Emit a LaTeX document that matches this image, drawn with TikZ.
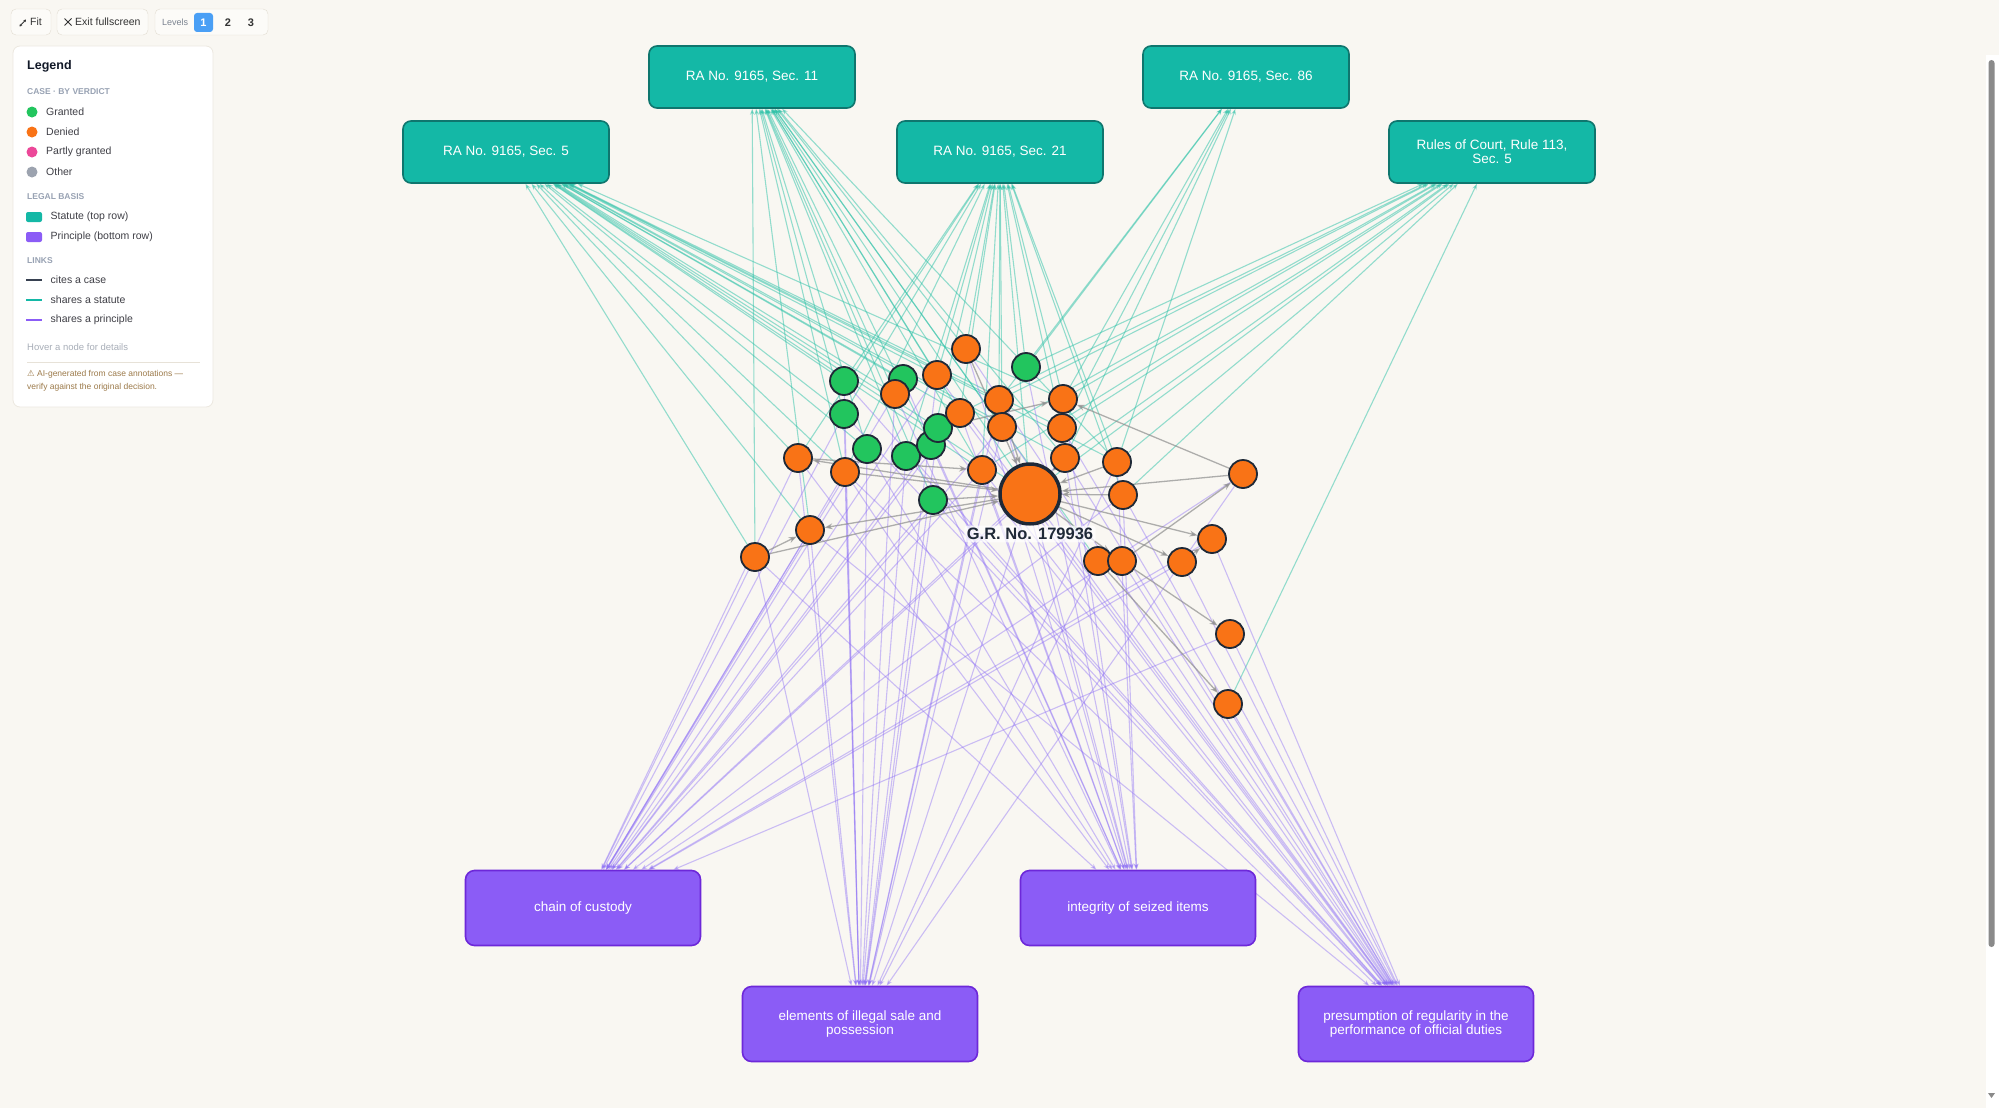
\documentclass[tikz,border=0pt]{standalone}
\usepackage{fontspec}
\setmainfont{Liberation Sans}
\newfontfamily\symfont{DejaVu Sans}
\usetikzlibrary{positioning,arrows.meta,backgrounds}

\definecolor{pagebg}{HTML}{F9F7F2}
\definecolor{statfill}{HTML}{14B8A6}
\definecolor{statdraw}{HTML}{0F766E}
\definecolor{princfill}{HTML}{8B5CF6}
\definecolor{princdraw}{HTML}{6D28D9}
\definecolor{grantc}{HTML}{22C55E}
\definecolor{deniedc}{HTML}{F97316}
\definecolor{partc}{HTML}{EC4899}
\definecolor{otherc}{HTML}{9CA3AF}
\definecolor{rimc}{HTML}{1F2937}
\definecolor{statlinkc}{HTML}{2DC2A8}
\definecolor{princlinkc}{HTML}{8B6CF6}
\definecolor{citec}{HTML}{8E8E8E}
\definecolor{citeink}{HTML}{374151}
\definecolor{headc}{HTML}{98A2B3}
\definecolor{legink}{HTML}{3F3F46}
\definecolor{titleink}{HTML}{111827}
\definecolor{hoverink}{HTML}{A8AEB8}
\definecolor{warnink}{HTML}{9C7A4A}
\definecolor{sepline}{HTML}{E7E2D8}
\definecolor{panelline}{HTML}{ECE8E0}
\definecolor{btnline}{HTML}{E2DDD2}
\definecolor{btnfill}{HTML}{FCFBF8}
\definecolor{btnink}{HTML}{333333}
\definecolor{lvlblue}{HTML}{4A9FF5}
\definecolor{thumbc}{HTML}{8A8A8A}

\begin{document}
\begin{tikzpicture}[
  x=1pt, y=-1pt,
  every node/.style={font=\fontsize{13.5}{14}\selectfont},
  statute/.style={rectangle, rounded corners=8pt, draw=statdraw, line width=1.6pt, fill=statfill, text=white, minimum width=206pt, minimum height=62pt, align=center},
  principle/.style={rectangle, rounded corners=9pt, draw=princdraw, line width=1.6pt, fill=princfill, text=white, minimum width=235pt, minimum height=75pt, align=center},
  case/.style={circle, draw=rimc, line width=1.8pt, minimum size=28pt, inner sep=0pt},
  granted/.style={case, fill=grantc},
  denied/.style={case, fill=deniedc},
  stl/.style={draw=statlinkc, opacity=.5, line width=1.1pt, -{Stealth[length=6pt,width=4.5pt]}},
  prl/.style={draw=princlinkc, opacity=.42, line width=1.1pt, -{Stealth[length=6pt,width=4.5pt]}},
  cite/.style={draw=citec, opacity=.7, line width=1.3pt, -{Stealth[length=8pt,width=6pt]}},
  btn/.style={rectangle, rounded corners=5pt, draw=btnline, fill=btnfill, minimum height=26pt, inner sep=0pt},
  btntext/.style={anchor=west, inner sep=0pt, text=btnink, font=\fontsize{10.5}{12}\selectfont},
  legtext/.style={anchor=west, text=legink, font=\fontsize{10.5}{12}\selectfont},
  leghead/.style={anchor=west, text=headc, font=\bfseries\fontsize{8.5}{10}\selectfont},
  legdot/.style={circle, minimum size=11pt, inner sep=0pt},
  legswatch/.style={rectangle, rounded corners=2pt, minimum width=16pt, minimum height=10pt, inner sep=0pt},
  legline/.style={rectangle, minimum width=16pt, minimum height=2.4pt, inner sep=0pt}
]
  \begin{scope}[on background layer]
    \fill[pagebg] (0,0) rectangle (1999,1108);
  \end{scope}

  \node[statute] (s11) at (752,77) {RA No. 9165, Sec. 11};
  \node[statute] (s86) at (1246,77) {RA No. 9165, Sec. 86};
  \node[statute] (s5) at (506,152) {RA No. 9165, Sec. 5};
  \node[statute] (s21) at (1000,152) {RA No. 9165, Sec. 21};
  \node[statute] (r113) at (1492,152) {Rules of Court, Rule 113,\\Sec. 5};

  \node[principle] (custody) at (583,908) {chain of custody};
  \node[principle] (integrity) at (1138,908) {integrity of seized items};
  \node[principle] (elements) at (860,1024) {elements of illegal sale and\\possession};
  \node[principle] (regular) at (1416,1024) {presumption of regularity in the\\performance of official duties};

  \node[granted] (g1) at (844,381) {};
  \node[granted] (g2) at (903,379) {};
  \node[granted] (g3) at (844,414) {};
  \node[granted] (g4) at (867,449) {};
  \node[granted] (g5) at (906,456) {};
  \node[granted] (g6) at (931,445) {};
  \node[granted] (g7) at (938,428) {};
  \node[granted] (g8) at (933,500) {};
  \node[granted] (g9) at (1026,367) {};
  \node[denied] (o1) at (966,349) {};
  \node[denied] (o2) at (937,375) {};
  \node[denied] (o3) at (895,394) {};
  \node[denied] (o4) at (960,413) {};
  \node[denied] (o5) at (999,400) {};
  \node[denied] (o6) at (1002,427) {};
  \node[denied] (o7) at (1063,399) {};
  \node[denied] (o8) at (1062,428) {};
  \node[denied] (o9) at (1065,458) {};
  \node[denied] (o10) at (798,458) {};
  \node[denied] (o11) at (845,472) {};
  \node[denied] (o12) at (982,470) {};
  \node[denied] (o13) at (1117,462) {};
  \node[denied] (o14) at (1123,495) {};
  \node[denied] (o15) at (1243,474) {};
  \node[denied] (o16) at (810,530) {};
  \node[denied] (o17) at (755,557) {};
  \node[denied] (o18) at (1212,539) {};
  \node[denied] (o19) at (1098,561) {};
  \node[denied] (o20) at (1122,561) {};
  \node[denied] (o21) at (1182,562) {};
  \node[denied] (o22) at (1230,634) {};
  \node[denied] (o23) at (1228,704) {};
  \node[denied, minimum size=60pt, line width=3.5pt] (gr) at (1030,494) {};
  \node[font=\bfseries\fontsize{16.5}{18}\selectfont, text=rimc, fill=white, fill opacity=.7, text opacity=1, rounded corners=3pt, inner sep=2.5pt] (grlabel) at (1030,534) {G.R. No. 179936};

  \begin{scope}[on background layer]
    \foreach \c in {o17,o16,o11,g3,g1,g2,g4,o3,o2,o4,o5,o6,o7,o8,o9,o12,gr,g7,o13,o10}
      \draw[stl] (\c) -- (s5);
    \foreach \c in {o17,o16,o11,g3,g4,g5,g8,g6,o3,o2,o4,gr,o12,o6,o19,o1,o9,o13}
      \draw[stl] (\c) -- (s11);
    \foreach \c in {g1,g3,g5,g6,g9,o1,o2,o4,o5,o6,o7,o8,o10,o12,o13,o14,gr,o11}
      \draw[stl] (\c) -- (s21);
    \foreach \c in {g9,o5,o7,o8,o9,o13}
      \draw[stl] (\c) -- (s86);
    \foreach \c in {g9,o4,o5,o6,o7,o8,o9,o12,o13,o14,gr,o23}
      \draw[stl] (\c) -- (r113);
    \foreach \c in {o17,o16,o10,o11,g3,g4,g5,g6,g8,o3,o4,o6,o9,o12,o14,gr,o18,o21,o22,o15,o2}
      \draw[prl] (\c) -- (custody);
    \foreach \c in {o17,o16,o10,o11,g1,g3,g4,g5,g7,g8,o2,o3,o5,o6,o12,gr,o13,o19,o15}
      \draw[prl] (\c) -- (elements);
    \foreach \c in {g2,g4,g6,g9,o1,o3,o4,o5,o7,o9,o11,o12,o13,o14,gr,o10,o17}
      \draw[prl] (\c) -- (integrity);
    \foreach \c in {g1,g3,g5,g7,g8,o1,o2,o4,o6,o8,o9,o12,o14,o16,o20,o21,o22,o23,gr,o11,o18}
      \draw[prl] (\c) -- (regular);
    \foreach \a/\b in {o15/gr,o15/o7,o20/o15,gr/o18,o21/o18,gr/o20,gr/o21,gr/o16,o17/o16,o17/gr,gr/o10,o10/o12,o1/gr,o14/gr,o20/o22,o19/o23,o9/gr,o13/gr,g7/o7,o11/gr,o5/gr,g8/gr}
      \draw[cite] (\a) -- (\b);
  \end{scope}

  \node[btn, minimum width=40pt] (fitbtn) at (31,22) {};
  \draw[btnink, line width=0.9pt, {Stealth[length=2.5pt,width=3pt]}-{Stealth[length=2.5pt,width=3pt]}] (19.5,26.5) -- (26,19.5);
  \node[btntext] (fittxt) at (30,22) {Fit};
  \node[btn, minimum width=91pt] (exitbtn) at (102.5,22) {};
  \draw[btnink, line width=0.9pt] (64.5,18.5) -- (71.5,25.5) (64.5,25.5) -- (71.5,18.5);
  \node[btntext] (exittxt) at (75,22) {Exit fullscreen};
  \node[btn, minimum width=113pt] (lvlbtn) at (211.5,22) {};
  \node[btntext, text=headc!80!black, font=\fontsize{9}{10}\selectfont] (lvltxt) at (162,22.5) {Levels};
  \node[rectangle, rounded corners=3pt, fill=lvlblue, minimum size=19pt, inner sep=0pt, text=white, font=\bfseries\fontsize{11}{12}\selectfont] (lvl1) at (203.5,22.5) {1};
  \node[font=\bfseries\fontsize{11}{12}\selectfont, text=btnink] (lvl2) at (228,22.5) {2};
  \node[font=\bfseries\fontsize{11}{12}\selectfont, text=btnink] (lvl3) at (251,22.5) {3};

  \node[rectangle, rounded corners=7pt, draw=panelline, line width=0.8pt, fill=white, minimum width=200pt, minimum height=361pt] (legend) at (113,226.5) {};
  \node[anchor=west, inner sep=0pt, text=titleink, font=\bfseries\fontsize{12.5}{14}\selectfont] (legtitle) at (27,66) {Legend};
  \node[leghead, inner sep=0pt] (hcase) at (27,92) {CASE · BY VERDICT};
  \node[legdot, fill=grantc] (dgrant) at (32,112) {};
  \node[legtext, right=5pt of dgrant] (tgrant) {Granted};
  \node[legdot, fill=deniedc] (ddeny) at (32,132) {};
  \node[legtext, right=5pt of ddeny] (tdeny) {Denied};
  \node[legdot, fill=partc] (dpart) at (32,152) {};
  \node[legtext, right=5pt of dpart] (tpart) {Partly granted};
  \node[legdot, fill=otherc] (dother) at (32,172) {};
  \node[legtext, right=5pt of dother] (tother) {Other};
  \node[leghead, inner sep=0pt] (hbasis) at (27,197) {LEGAL BASIS};
  \node[legswatch, fill=statfill] (wstat) at (34,217) {};
  \node[legtext, right=5pt of wstat] (tstat) {Statute (top row)};
  \node[legswatch, fill=princfill] (wprinc) at (34,237) {};
  \node[legtext, right=5pt of wprinc] (tprinc) {Principle (bottom row)};
  \node[leghead, inner sep=0pt] (hlinks) at (27,261) {LINKS};
  \node[legline, fill=citeink] (lcite) at (34,280) {};
  \node[legtext, right=5pt of lcite] (tcite) {cites a case};
  \node[legline, fill=statfill] (lstat) at (34,300) {};
  \node[legtext, right=5pt of lstat] (tlstat) {shares a statute};
  \node[legline, fill=princfill] (lprinc) at (34,320) {};
  \node[legtext, right=5pt of lprinc] (tlprinc) {shares a principle};
  \node[anchor=west, inner sep=0pt, text=hoverink, font=\fontsize{9.5}{11}\selectfont] (hover) at (27,347) {Hover a node for details};
  \draw[sepline, line width=0.8pt] (27,362) -- (200,362);
  \node[anchor=north west, inner sep=0pt, align=left, text=warnink, font=\fontsize{8.5}{13}\selectfont] (warn) at (27,370) {{\symfont ⚠} AI-generated from case annotations —\\verify against the original decision.};

  \fill[white] (1986,55) rectangle (1999,1108);
  \fill[thumbc, rounded corners=3pt] (1988.5,60) rectangle (1994.5,947);
  \fill[thumbc] (1988,1093) -- (1995,1093) -- (1991.5,1098) -- cycle;
\end{tikzpicture}
\end{document}
